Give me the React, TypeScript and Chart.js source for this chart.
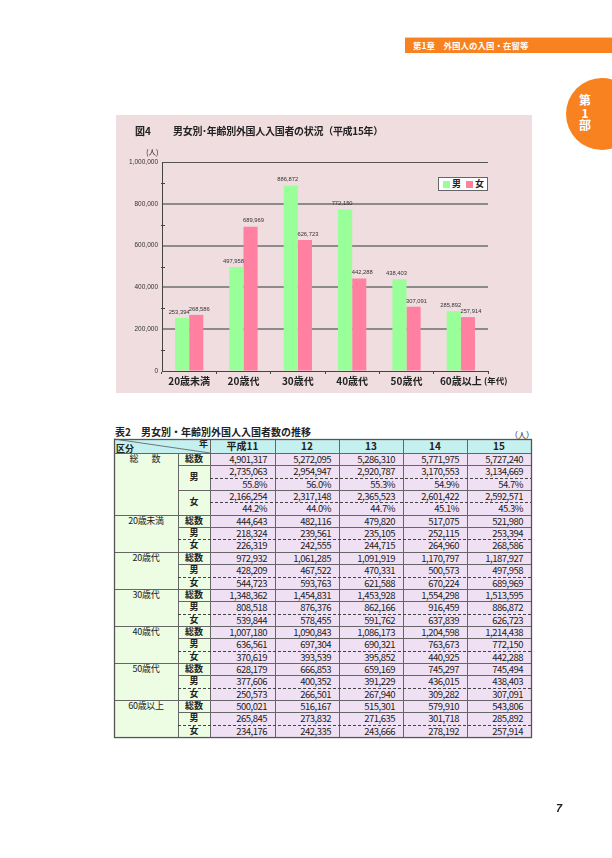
import React, { useEffect, useRef } from "react";
import { Chart, registerables } from "chart.js";
Chart.register(...registerables);

// ---- chart data (平成15年) ----
const ageGroups = ["20歳未満", "20歳代", "30歳代", "40歳代", "50歳代", "60歳以上"];
const maleH15 = [253394, 497958, 886872, 772150, 438403, 285892];
const femaleH15 = [268586, 689969, 626723, 442288, 307091, 257914];
const yMax = 1000000;
const yStep = 200000;

// ---- table data ----
const years = ["平成11", "12", "13", "14", "15"];
const totalAll = [4901317, 5272095, 5286310, 5771975, 5727240];
const maleAll = [2735063, 2954947, 2920787, 3170553, 3134669];
const malePct = [55.8, 56.0, 55.3, 54.9, 54.7];
const femaleAll = [2166254, 2317148, 2365523, 2601422, 2592571];
const femalePct = [44.2, 44.0, 44.7, 45.1, 45.3];

const u20Total = [444643, 482116, 479820, 517075, 521980];
const u20Male = [218324, 239561, 235105, 252115, 253394];
const u20Female = [226319, 242555, 244715, 264960, 268586];
const a20Total = [972932, 1061285, 1091919, 1170797, 1187927];
const a20Male = [428209, 467522, 470331, 500573, 497958];
const a20Female = [544723, 593763, 621588, 670224, 689969];
const a30Total = [1348362, 1454831, 1453928, 1554298, 1513595];
const a30Male = [808518, 876376, 862166, 916459, 886872];
const a30Female = [539844, 578455, 591762, 637839, 626723];
const a40Total = [1007180, 1090843, 1086173, 1204598, 1214438];
const a40Male = [636561, 697304, 690321, 763673, 772150];
const a40Female = [370619, 393539, 395852, 440925, 442288];
const a50Total = [628179, 666853, 659169, 745297, 745494];
const a50Male = [377606, 400352, 391229, 436015, 438403];
const a50Female = [250573, 266501, 267940, 309282, 307091];
const a60Total = [500021, 516167, 515301, 579910, 543806];
const a60Male = [265845, 273832, 271635, 301718, 285892];
const a60Female = [234176, 242335, 243666, 278192, 257914];

const ageRows = [
  { name: "20歳未満", t: u20Total, m: u20Male, f: u20Female },
  { name: "20歳代", t: a20Total, m: a20Male, f: a20Female },
  { name: "30歳代", t: a30Total, m: a30Male, f: a30Female },
  { name: "40歳代", t: a40Total, m: a40Male, f: a40Female },
  { name: "50歳代", t: a50Total, m: a50Male, f: a50Female },
  { name: "60歳以上", t: a60Total, m: a60Male, f: a60Female },
];

const JP = '"Noto Sans CJK JP", "Noto Sans", sans-serif';
const fmt = (v: number) => v.toLocaleString("en-US");
const pct = (v: number) => v.toFixed(1) + "%";

const ORANGE = "#f8821f";
const GREEN = "#99ff99";
const PINK = "#ff80a0";

function BarChart() {
  const ref = useRef<HTMLCanvasElement | null>(null);
  useEffect(() => {
    if (!ref.current) return;
    const labelPlugin = {
      id: "valLabels",
      afterDatasetsDraw(chart: any) {
        const ctx = chart.ctx;
        ctx.save();
        ctx.font = '5.8px "Liberation Sans", sans-serif';
        ctx.fillStyle = "#333";
        ctx.textAlign = "center";
        ctx.textBaseline = "bottom";
        chart.data.datasets.forEach((ds: any, di: number) => {
          const meta = chart.getDatasetMeta(di);
          const dx = di === 0 ? -3 : 3;
          meta.data.forEach((bar: any, i: number) => {
            ctx.fillText(fmt(ds.data[i]), bar.x + dx, bar.y - 3);
          });
        });
        ctx.restore();
      },
      afterDraw(chart: any) {
        const ctx = chart.ctx;
        const y = chart.scales.y;
        const left = chart.chartArea.left;
        ctx.save();
        ctx.strokeStyle = "#444";
        ctx.lineWidth = 1;
        for (let v = yStep / 2; v < yMax; v += yStep) {
          const py = Math.round(y.getPixelForValue(v)) + 0.5;
          ctx.beginPath();
          ctx.moveTo(left - 1, py);
          ctx.lineTo(left + 3, py);
          ctx.stroke();
        }
        ctx.restore();
      },
    };
    const chart = new Chart(ref.current, {
      type: "bar",
      data: {
        labels: ageGroups,
        datasets: [
          { label: "男", data: maleH15, backgroundColor: GREEN, borderWidth: 0, categoryPercentage: 0.52, barPercentage: 1 },
          { label: "女", data: femaleH15, backgroundColor: PINK, borderWidth: 0, categoryPercentage: 0.52, barPercentage: 1 },
        ],
      },
      options: {
        animation: false,
        responsive: false,
        maintainAspectRatio: false,
        layout: { padding: { left: 0, right: 44, top: 47, bottom: 0 } },
        plugins: { legend: { display: false }, tooltip: { enabled: false }, title: { display: false } },
        scales: {
          x: {
            grid: { drawOnChartArea: false, drawTicks: true, tickLength: 3, tickColor: "#444", offset: true },
            border: { display: true, color: "#444", width: 1 },
            ticks: { font: { family: JP, size: 10, weight: "bold" }, color: "#222", padding: 1, maxRotation: 0, autoSkip: false },
            afterFit: (s: any) => { s.height = 22; },
          },
          y: {
            min: 0,
            max: yMax,
            ticks: {
              stepSize: yStep,
              callback: (v: any) => fmt(Number(v)),
              font: { family: '"Liberation Sans", sans-serif', size: 6.5 },
              color: "#333",
              padding: 4,
            },
            grid: {
              drawTicks: false,
              color: (c: any) => (c.tick && (c.tick.value === yMax || c.tick.value === 0) ? "#555" : "#8c8c8c"),
              lineWidth: (c: any) => (c.tick && (c.tick.value === yMax || c.tick.value === 0) ? 1 : 2),
            },
            border: { display: true, color: "#444", width: 1 },
            afterFit: (s: any) => { s.width = 46; },
          },
        },
      },
      plugins: [labelPlugin],
    } as any);
    return () => chart.destroy();
  }, []);
  return <canvas ref={ref} width={416} height={278} style={{ position: "absolute", left: 0, top: 0, width: 416, height: 278 }} />;
}

// ---- table geometry ----
const COLX = [114, 178, 210, 275, 339, 403, 467, 531];
const HEAD_TOP = 439;
const HEAD_BOT = 453;
const ROW_H = 12.35;
const rowTop = (i: number) => HEAD_BOT + i * ROW_H;

type Row = { g?: string; gSpan?: number; c2?: string; c2Span?: number; vals: string[] };

function buildRows(): Row[] {
  const rows: Row[] = [
    { g: "総　数", gSpan: 5, c2: "総数", c2Span: 1, vals: totalAll.map(fmt) },
    { c2: "男", c2Span: 2, vals: maleAll.map(fmt) },
    { vals: malePct.map(pct) },
    { c2: "女", c2Span: 2, vals: femaleAll.map(fmt) },
    { vals: femalePct.map(pct) },
  ];
  ageRows.forEach((a) => {
    rows.push({ g: a.name, gSpan: 3, c2: "総数", c2Span: 1, vals: a.t.map(fmt) });
    rows.push({ c2: "男", c2Span: 1, vals: a.m.map(fmt) });
    rows.push({ c2: "女", c2Span: 1, vals: a.f.map(fmt) });
  });
  return rows;
}

function DataTable() {
  const rows = buildRows();
  const n = rows.length;
  const bottom = rowTop(n);
  const cells: any[] = [];
  const txt = { position: "absolute" as const, fontFamily: JP, color: "#222", whiteSpace: "nowrap" as const };

  cells.push(<div key="bgh" style={{ position: "absolute", left: COLX[0], top: HEAD_TOP, width: COLX[7] - COLX[0], height: HEAD_BOT - HEAD_TOP, background: "#c4f1ef" }} />);
  cells.push(<div key="bgl" style={{ position: "absolute", left: COLX[0], top: HEAD_BOT, width: COLX[2] - COLX[0], height: bottom - HEAD_BOT, background: "#ecfde4" }} />);
  cells.push(<div key="bgn" style={{ position: "absolute", left: COLX[2], top: HEAD_BOT, width: COLX[7] - COLX[2], height: bottom - HEAD_BOT, background: "#f0e0f4" }} />);

  cells.push(<div key="kb" style={{ ...txt, left: 116, top: 444, fontSize: 9, fontWeight: 700, lineHeight: "9px" }}>区分</div>);
  cells.push(<div key="nen" style={{ ...txt, left: 199, top: 439, fontSize: 9, fontWeight: 700, lineHeight: "9px" }}>年</div>);
  years.forEach((y, j) => {
    cells.push(
      <div key={"y" + j} style={{ ...txt, left: COLX[j + 2], width: COLX[j + 3] - COLX[j + 2], top: HEAD_TOP, height: HEAD_BOT - HEAD_TOP, lineHeight: HEAD_BOT - HEAD_TOP + "px", textAlign: "center", fontSize: 10, fontWeight: 700 }}>
        {y}
      </div>
    );
  });

  rows.forEach((r, i) => {
    const t = rowTop(i);
    if (r.g) {
      cells.push(
        <div key={"g" + i} style={{ ...txt, left: COLX[0], width: COLX[1] - COLX[0], top: t, height: ROW_H, lineHeight: ROW_H + "px", textAlign: "center", fontSize: 9, letterSpacing: r.g.includes("　") ? "2px" : "-0.3px" }}>
          {r.g}
        </div>
      );
    }
    if (r.c2) {
      const h = ROW_H * (r.c2Span || 1);
      cells.push(
        <div key={"c" + i} style={{ ...txt, left: COLX[1], width: COLX[2] - COLX[1], top: t, height: h, lineHeight: h + "px", textAlign: "center", fontSize: 9, fontWeight: 700 }}>
          {r.c2}
        </div>
      );
    }
    r.vals.forEach((v, j) => {
      cells.push(
        <div key={"v" + i + "_" + j} style={{ ...txt, left: COLX[j + 2], width: COLX[j + 3] - COLX[j + 2] - 8, top: t, height: ROW_H, lineHeight: ROW_H + "px", textAlign: "right", fontSize: 9.5, letterSpacing: "-0.5px" }}>
          {v}
        </div>
      );
    });
  });

  const lines: any[] = [];
  const H = (x1: number, x2: number, y: number, dashed: boolean, k: string) => {
    const yy = Math.round(y) + 0.5;
    lines.push(<line key={k} x1={x1} x2={x2} y1={yy} y2={yy} stroke={dashed ? "#444" : "#666"} strokeWidth={1} strokeDasharray={dashed ? "3 2" : undefined} />);
  };
  const V = (x: number, y1: number, y2: number, k: string) => {
    lines.push(<line key={k} x1={x + 0.5} x2={x + 0.5} y1={y1} y2={y2} stroke="#666" strokeWidth={1} />);
  };
  H(COLX[0], COLX[7], HEAD_BOT, false, "hb");
  V(COLX[1], HEAD_BOT, bottom, "v1");
  for (let c = 2; c <= 6; c++) V(COLX[c], HEAD_TOP, bottom, "v" + c);
  for (let i = 1; i < n; i++) {
    const y = rowTop(i);
    if (i < 5) {
      if (i === 1 || i === 3) H(COLX[1], COLX[7], y, false, "h" + i);
      else H(COLX[2], COLX[7], y, true, "h" + i);
    } else {
      const k = (i - 5) % 3;
      if (k === 0) H(COLX[0], COLX[7], y, false, "h" + i);
      else if (k === 1) H(COLX[1], COLX[7], y, false, "h" + i);
      else H(COLX[1], COLX[7], y, true, "h" + i);
    }
  }
  lines.push(<line key="diag" x1={COLX[0]} y1={HEAD_TOP} x2={COLX[2]} y2={HEAD_BOT} stroke="#555" strokeWidth={0.8} />);
  lines.push(<rect key="outer" x={COLX[0] + 0.5} y={HEAD_TOP + 0.5} width={COLX[7] - COLX[0]} height={bottom - HEAD_TOP} fill="none" stroke="#555" strokeWidth={1.3} />);

  return (
    <>
      {cells}
      <svg width={612} height={858} style={{ position: "absolute", left: 0, top: 0, pointerEvents: "none" }}>
        {lines}
      </svg>
    </>
  );
}

export default function App() {
  return (
    <div style={{ position: "absolute", left: 0, top: 0, width: 612, height: 858, background: "#fff", overflow: "hidden", fontFamily: JP }}>
      <div style={{ position: "absolute", left: 405, top: 37, width: 207, height: 1, background: "#fcc8a0" }} />
      <div style={{ position: "absolute", left: 405, top: 38, width: 207, height: 15, background: ORANGE }} />
      <div style={{ position: "absolute", left: 413, top: 38, height: 15, lineHeight: "15px", fontSize: 8.5, color: "#fff", fontWeight: 700, whiteSpace: "nowrap" }}>
        第1章　外国人の入国・在留等
      </div>
      <div style={{ position: "absolute", left: 566, top: 78, width: 72, height: 72, borderRadius: "50%", background: ORANGE }} />
      <div style={{ position: "absolute", left: 575, top: 94, width: 20, textAlign: "center", color: "#fff", fontWeight: 700, fontSize: 12, lineHeight: "12.5px" }}>
        <div>第</div>
        <div>1</div>
        <div>部</div>
      </div>

      <div style={{ position: "absolute", left: 116, top: 115, width: 416, height: 278, background: "#f0dde0" }}>
        <BarChart />
      </div>
      <div style={{ position: "absolute", left: 135, top: 125, fontSize: 10, lineHeight: "12px", fontWeight: 700, color: "#222", whiteSpace: "nowrap" }}>
        図4
      </div>
      <div style={{ position: "absolute", left: 173, top: 125, fontSize: 10, lineHeight: "12px", fontWeight: 700, color: "#222", whiteSpace: "nowrap", letterSpacing: "-0.3px" }}>
        男女別･年齢別外国人入国者の状況（平成15年）
      </div>
      <div style={{ position: "absolute", left: 146, top: 147, fontSize: 7.5, lineHeight: "9px", color: "#222", whiteSpace: "nowrap" }}>(人)</div>
      <div style={{ position: "absolute", left: 484, top: 375, fontSize: 8.5, lineHeight: "11px", color: "#222", fontWeight: 700, whiteSpace: "nowrap" }}>(年代)</div>
      <div style={{ position: "absolute", left: 438, top: 177, width: 48, height: 12, background: "#fff", border: "1px solid #666", display: "flex", alignItems: "center", fontSize: 9, fontWeight: 700, color: "#222", lineHeight: "12px" }}>
        <span style={{ display: "inline-block", width: 7, height: 7, background: GREEN, marginLeft: 4, marginRight: 2 }} />
        <span>男</span>
        <span style={{ display: "inline-block", width: 7, height: 7, background: PINK, marginLeft: 5, marginRight: 2 }} />
        <span>女</span>
      </div>

      <div style={{ position: "absolute", left: 115, top: 426, fontSize: 10, lineHeight: "12px", fontWeight: 700, color: "#222", whiteSpace: "nowrap" }}>
        表2　男女別・年齢別外国人入国者数の推移
      </div>
      <div style={{ position: "absolute", left: 510, top: 430, fontSize: 8, lineHeight: "10px", color: "#222", whiteSpace: "nowrap" }}>（人）</div>
      <DataTable />

      <div style={{ position: "absolute", left: 556, top: 802, fontSize: 11, lineHeight: "12px", fontWeight: 700, fontStyle: "italic", color: "#222", fontFamily: '"Liberation Sans", sans-serif' }}>7</div>
    </div>
  );
}
